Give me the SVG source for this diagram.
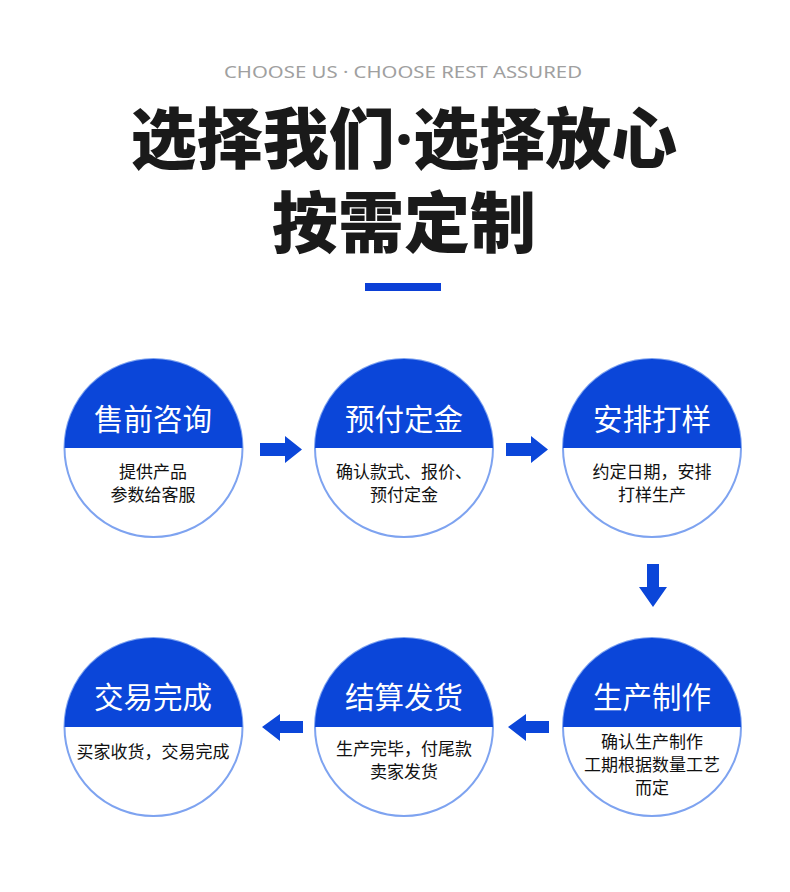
<svg xmlns="http://www.w3.org/2000/svg" width="790" height="892" viewBox="0 0 790 892">
<style>
.sub{font-family:"Noto Sans CJK SC","Noto Sans",sans-serif;font-size:17px;fill:#111;text-anchor:middle}
.ttl{font-family:"Noto Sans CJK SC","Noto Sans",sans-serif;font-size:29.5px;fill:#fff;text-anchor:middle}
.ring{fill:#fff;stroke:#7ea3f0;stroke-width:2}
.top{fill:#0b46d9}
.arr{fill:#0b46d9}
.big{font-family:"Noto Sans CJK SC",sans-serif;font-weight:900;font-size:66px;fill:#1a1a1a;text-anchor:middle}
</style>
<rect width="790" height="892" fill="#fff"/>
<text x="403" y="78" font-family="'Noto Sans','Liberation Sans',sans-serif" font-size="17" fill="#a0a0a0" text-anchor="middle" textLength="358" lengthAdjust="spacingAndGlyphs">CHOOSE US · CHOOSE REST ASSURED</text>
<text class="big" x="404" y="163">选择我们<tspan font-family="'Noto Sans',sans-serif" font-weight="700">·</tspan>选择放心</text>
<text class="big" x="404" y="247">按需定制</text>
<rect x="365" y="283" width="76" height="8" fill="#0b3fd6"/>

<g id="n1">
<circle class="ring" cx="153.5" cy="448" r="89"/>
<path class="top" d="M64.5 448A89 89 0 0 1 242.5 448Z"/>
<text class="ttl" x="153" y="430">售前咨询</text>
<text class="sub" x="153" y="478">提供产品</text>
<text class="sub" x="153" y="501">参数给客服</text>
</g>
<g id="n2">
<circle class="ring" cx="404" cy="448" r="89"/>
<path class="top" d="M315 448A89 89 0 0 1 493 448Z"/>
<text class="ttl" x="404" y="430">预付定金</text>
<text class="sub" x="404" y="478">确认款式、报价、</text>
<text class="sub" x="404" y="501">预付定金</text>
</g>
<g id="n3">
<circle class="ring" cx="652" cy="448" r="89"/>
<path class="top" d="M563 448A89 89 0 0 1 741 448Z"/>
<text class="ttl" x="652" y="430">安排打样</text>
<text class="sub" x="652" y="478">约定日期，安排</text>
<text class="sub" x="652" y="501">打样生产</text>
</g>
<g id="n4">
<circle class="ring" cx="153.5" cy="727" r="89"/>
<path class="top" d="M64.5 727A89 89 0 0 1 242.5 727Z"/>
<text class="ttl" x="153" y="708">交易完成</text>
<text class="sub" x="153" y="758">买家收货，交易完成</text>
</g>
<g id="n5">
<circle class="ring" cx="404" cy="727" r="89"/>
<path class="top" d="M315 727A89 89 0 0 1 493 727Z"/>
<text class="ttl" x="404" y="708">结算发货</text>
<text class="sub" x="404" y="755">生产完毕，付尾款</text>
<text class="sub" x="404" y="778">卖家发货</text>
</g>
<g id="n6">
<circle class="ring" cx="652" cy="727" r="89"/>
<path class="top" d="M563 727A89 89 0 0 1 741 727Z"/>
<text class="ttl" x="652" y="708">生产制作</text>
<text class="sub" x="652" y="748">确认生产制作</text>
<text class="sub" x="652" y="771">工期根据数量工艺</text>
<text class="sub" x="652" y="794">而定</text>
</g>

<g id="connectors">
<path class="arr" d="M260 443H285V436L302 449.5L285 463V456H260Z"/>
<path class="arr" d="M506 443H531V436L548 449.5L531 463V456H506Z"/>
<path class="arr" d="M647 564H659V587H667L653 607L639 587H647Z"/>
<path class="arr" d="M303 721H280V714L262 727L280 741V733H303Z"/>
<path class="arr" d="M549 721H526V714L508 727L526 741V733H549Z"/>
</g>
</svg>
